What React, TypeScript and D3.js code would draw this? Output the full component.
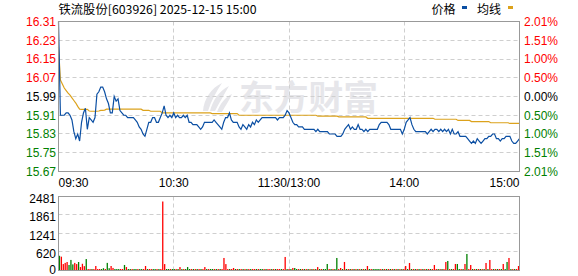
import React from 'react';
import * as d3 from 'd3';

const title = '铁流股份[603926] 2025-12-15 15:00';
const legendLabels = ['价格', '均线'];
const watermarkText = '东方财富';
const prevClose = 15.99;
const priceTicks = [16.31, 16.23, 16.15, 16.07, 15.99, 15.91, 15.83, 15.75, 15.67];
const pctTicks = ['2.01%', '1.51%', '1.00%', '0.50%', '0.00%', '0.50%', '1.00%', '1.51%', '2.01%'];
const volTicks = [2481, 1861, 1241, 620, 0];
const timeLabels = ['09:30', '10:30', '11:30/13:00', '14:00', '15:00'];
const timeIdx = [0, 60, 120, 180, 240];

const price = [
  16.31, 15.91, 15.91, 15.91, 15.92, 15.92, 15.91, 15.89, 15.84, 15.81,
  15.83, 15.80, 15.88, 15.92, 15.94, 15.85, 15.90, 15.89, 15.88, 15.90,
  16.00, 16.01, 16.03, 16.03, 16.01, 15.98, 15.96, 15.92, 15.92, 15.99,
  15.97, 15.98, 15.93, 15.92, 15.91, 15.91, 15.90, 15.90, 15.90, 15.90,
  15.89, 15.88, 15.86, 15.85, 15.83, 15.82, 15.85, 15.88, 15.88, 15.90,
  15.90, 15.88, 15.88, 15.90, 15.92, 15.95, 15.91, 15.90, 15.91, 15.90,
  15.92, 15.90, 15.91, 15.90, 15.90, 15.91, 15.90, 15.91, 15.88, 15.88,
  15.87, 15.87, 15.87, 15.86, 15.85, 15.86, 15.88, 15.88, 15.88, 15.88,
  15.88, 15.89, 15.88, 15.87, 15.86, 15.85, 15.88, 15.90, 15.90, 15.92,
  15.89, 15.88, 15.88, 15.88, 15.86, 15.85, 15.87, 15.86, 15.85, 15.87,
  15.86, 15.88, 15.87, 15.89, 15.88, 15.89, 15.90, 15.90, 15.90, 15.90,
  15.90, 15.90, 15.90, 15.90, 15.89, 15.90, 15.90, 15.90, 15.91, 15.93,
  15.92, 15.90, 15.88, 15.87, 15.87, 15.86, 15.86, 15.86, 15.85, 15.85,
  15.85, 15.85, 15.85, 15.85, 15.84, 15.85, 15.84, 15.84, 15.84, 15.84,
  15.84, 15.83, 15.83, 15.83, 15.83, 15.82, 15.82, 15.82, 15.83, 15.85,
  15.86, 15.87, 15.85, 15.86, 15.85, 15.85, 15.87, 15.85, 15.85, 15.84,
  15.85, 15.84, 15.85, 15.85, 15.85, 15.85, 15.85, 15.87, 15.88, 15.88,
  15.88, 15.88, 15.87, 15.85, 15.85, 15.85, 15.85, 15.85, 15.85, 15.83,
  15.85, 15.88, 15.89, 15.90, 15.87, 15.85, 15.84, 15.84, 15.84, 15.84,
  15.84, 15.84, 15.83, 15.84, 15.85, 15.84, 15.85, 15.85, 15.84, 15.85,
  15.84, 15.85, 15.84, 15.85, 15.83, 15.85, 15.83, 15.83, 15.84, 15.82,
  15.82, 15.82, 15.82, 15.81, 15.80, 15.79, 15.80, 15.79, 15.81, 15.80,
  15.79, 15.80, 15.81, 15.81, 15.82, 15.82, 15.83, 15.83, 15.81, 15.81,
  15.80, 15.81, 15.81, 15.82, 15.82, 15.82, 15.80, 15.79, 15.79, 15.80,
  15.81,
];

const avgPrice = [
  16.200, 16.060, 16.043, 16.026, 16.015, 16.004, 15.996, 15.984, 15.973, 15.962,
  15.948, 15.936, 15.935, 15.935, 15.935, 15.935, 15.928, 15.927, 15.927, 15.927,
  15.927, 15.928, 15.931, 15.931, 15.932, 15.936, 15.936, 15.936, 15.936, 15.936,
  15.936, 15.936, 15.936, 15.936, 15.936, 15.936, 15.936, 15.936, 15.936, 15.936,
  15.936, 15.936, 15.936, 15.936, 15.931, 15.931, 15.931, 15.931, 15.927, 15.927,
  15.927, 15.927, 15.927, 15.927, 15.920, 15.920, 15.920, 15.920, 15.920, 15.920,
  15.920, 15.920, 15.920, 15.920, 15.920, 15.920, 15.920, 15.920, 15.920, 15.920,
  15.920, 15.920, 15.920, 15.920, 15.920, 15.920, 15.920, 15.920, 15.920, 15.920,
  15.917, 15.917, 15.917, 15.917, 15.917, 15.917, 15.917, 15.917, 15.917, 15.917,
  15.917, 15.917, 15.917, 15.917, 15.910, 15.910, 15.910, 15.910, 15.910, 15.910,
  15.910, 15.910, 15.910, 15.910, 15.910, 15.910, 15.910, 15.910, 15.910, 15.910,
  15.910, 15.910, 15.910, 15.910, 15.910, 15.910, 15.910, 15.910, 15.910, 15.910,
  15.910, 15.910, 15.910, 15.910, 15.910, 15.910, 15.910, 15.910, 15.910, 15.910,
  15.910, 15.910, 15.910, 15.910, 15.910, 15.906, 15.906, 15.906, 15.906, 15.906,
  15.906, 15.906, 15.906, 15.906, 15.906, 15.906, 15.903, 15.903, 15.903, 15.903,
  15.903, 15.903, 15.903, 15.903, 15.903, 15.903, 15.903, 15.903, 15.903, 15.903,
  15.903, 15.897, 15.897, 15.897, 15.897, 15.897, 15.897, 15.897, 15.897, 15.897,
  15.897, 15.897, 15.897, 15.897, 15.897, 15.897, 15.897, 15.897, 15.897, 15.897,
  15.897, 15.897, 15.897, 15.897, 15.897, 15.897, 15.897, 15.897, 15.897, 15.897,
  15.897, 15.897, 15.897, 15.897, 15.897, 15.897, 15.893, 15.893, 15.893, 15.893,
  15.893, 15.893, 15.893, 15.893, 15.893, 15.893, 15.893, 15.893, 15.888, 15.888,
  15.888, 15.888, 15.888, 15.888, 15.888, 15.883, 15.883, 15.883, 15.883, 15.883,
  15.883, 15.883, 15.883, 15.883, 15.883, 15.878, 15.878, 15.878, 15.878, 15.878,
  15.878, 15.878, 15.878, 15.878, 15.878, 15.875, 15.875, 15.875, 15.875, 15.875,
  15.875,
];

const volume = [
  480, 450, 200, 240, 270, 170, 340, 190, 240, 200,
  270, 100, 210, 130, 370, 25, 20, 25, 30, 135,
  25, 30, 20, 60, 25, 240, 60, 135, 70, 25,
  20, 25, 30, 20, 170, 100, 30, 20, 25, 20,
  30, 20, 25, 30, 20, 135, 20, 30, 25, 20,
  30, 25, 20, 25, 2312, 200, 25, 20, 30, 25,
  20, 25, 30, 100, 25, 20, 30, 100, 25, 20,
  25, 30, 20, 25, 20, 30, 100, 25, 20, 25,
  30, 20, 25, 30, 20, 25, 406, 200, 30, 20,
  25, 68, 25, 20, 30, 25, 20, 30, 25, 20,
  25, 30, 20, 25, 30, 20, 25, 20, 30, 25,
  20, 25, 30, 20, 25, 30, 20, 25, 440, 30,
  20, 25, 68, 68, 25, 20, 30, 25, 20, 25,
  30, 20, 25, 20, 30, 100, 20, 25, 30, 20,
  203, 25, 20, 30, 25, 406, 25, 68, 20, 271,
  25, 30, 20, 25, 30, 20, 25, 20, 30, 25,
  20, 135, 25, 20, 30, 25, 20, 25, 30, 20,
  25, 30, 20, 25, 20, 30, 25, 20, 25, 30,
  20, 135, 25, 237, 20, 25, 30, 20, 25, 30,
  20, 25, 20, 30, 25, 20, 169, 30, 25, 20,
  30, 25, 271, 305, 20, 25, 30, 203, 203, 25,
  20, 30, 203, 541, 25, 169, 30, 20, 25, 30,
  20, 25, 30, 237, 25, 338, 20, 25, 30, 20,
  25, 30, 203, 25, 271, 406, 30, 20, 25, 30,
  135,
];

// r = up (red), g = down (green), one letter per minute
const volumeDirection =
  'grrrrgggrr' + 'grrrgrrgrr' + 'rrggrggrrg' + 'ggrrgrggrg' + 'grggrrgrrg' +
  'grgrrrggrg' + 'grgrgrgggr' + 'grgrgrrgrg' + 'grgrgrrrrg' + 'rrgrgrgrgr' +
  'grrgrggrgr' + 'rgrgrrgrrg' + 'rgrggrgrgr' + 'grgrgrgrgg' + 'grgrggrrgr' +
  'grgrgrgrgr' + 'grgrggggrg' + 'rgrgrgrgrg' + 'rrgrgrgrgr' + 'grgrgrrrgr' +
  'grrgrgrrgg' + 'rgrgrrgrgr' + 'grgrgrrgrg' + 'rgrggrgrgr' + 'r';

const RED = '#ff0000';
const GREEN = '#008000';
const GRID = '#cfcfcf';
const FRAME = '#999999';
const LATIN = '"Liberation Sans", Arial, sans-serif';
const CJK = '"Noto Sans CJK SC", "Liberation Sans", sans-serif';

export default function App() {
  const W = 578;
  const H = 276;
  const L = 58.5, R = 519.5, T = 21.5, B = 171.5;
  const VT = 196.5, VB = 270.5;

  const x = d3.scaleLinear().domain([0, 240]).range([L, R]);
  const xb = d3.scaleBand<number>().domain(d3.range(241)).range([L, R]);
  const y = d3.scaleLinear().domain([15.67, 16.31]).range([B, T]);
  const yv = d3.scaleLinear().domain([0, 2481]).range([270, VT]);

  const line = d3.line<number>().x((_, i) => x(i)).y((d) => y(d));

  const colorFor = (p: number) => (p > prevClose + 1e-9 ? RED : p < prevClose - 1e-9 ? GREEN : '#000');
  const snap = (v: number) => Math.floor(v) + 0.5;

  const barW = 1.3;

  return (
    <svg width={W} height={H} style={{ position: 'absolute', left: 0, top: 0, background: '#fff' }}>
      <rect x={0} y={0} width={W} height={H} fill="#fff" />
      {/* watermark */}
      <g fill="#e6e6ea">
        <path d="M203,111 C204,99 211,88 222,83 C216,92 211,101 208,111 Z" />
        <path d="M210,111 C213,100 219,91 229,86 C224,95 219,103 215,111 Z" />
        <path d="M217,112 C220,104 225,97 232,94 C229,101 225,106 222,112 Z" />
        <text x={239} y={110} fontFamily={CJK} fontWeight="bold" fontSize={34} textLength={139} lengthAdjust="spacingAndGlyphs">
          {watermarkText}
        </text>
      </g>

      {/* title & legend */}
      <text x={58.5} y={14} fontFamily={CJK} fontSize={12} fill="#000" textLength={198} lengthAdjust="spacingAndGlyphs">
        {title}
      </text>
      <text x={431.5} y={14} fontFamily={CJK} fontSize={12} fill="#000">{legendLabels[0]}</text>
      <rect x={462} y={6} width={5} height={3} fill="#0b4fa3" />
      <text x={477} y={14} fontFamily={CJK} fontSize={12} fill="#000">{legendLabels[1]}</text>
      <rect x={508} y={6} width={5} height={3} fill="#dca21c" />

      {/* price grid */}
      {priceTicks.slice(1, -1).map((t) => (
        <line key={'pg' + t} x1={L} x2={R} y1={snap(y(t))} y2={snap(y(t))} stroke={GRID} strokeDasharray="4,3" />
      ))}
      {timeIdx.slice(1, -1).map((t) => (
        <line key={'pv' + t} x1={snap(x(t))} x2={snap(x(t))} y1={T} y2={B} stroke={GRID} strokeDasharray="4,3" />
      ))}
      {/* volume grid */}
      {volTicks.slice(1, -1).map((t) => (
        <line key={'vg' + t} x1={L} x2={R} y1={snap(yv(t))} y2={snap(yv(t))} stroke={GRID} strokeDasharray="4,3" />
      ))}
      {timeIdx.slice(1, -1).map((t) => (
        <line key={'vv' + t} x1={snap(x(t))} x2={snap(x(t))} y1={VT} y2={VB} stroke={GRID} strokeDasharray="4,3" />
      ))}

      {/* price labels */}
      {priceTicks.map((t) => (
        <text key={'pl' + t} x={56} y={y(t) + 4.3} textAnchor="end" fontFamily={LATIN} fontSize={12} fill={colorFor(t)}>
          {t.toFixed(2)}
        </text>
      ))}
      {pctTicks.map((t, i) => (
        <text key={'pc' + i} x={524} y={y(priceTicks[i]) + 4.3} fontFamily={LATIN} fontSize={12} fill={colorFor(priceTicks[i])}>
          {t}
        </text>
      ))}

      {/* time labels */}
      {timeLabels.map((t, i) => (
        <text
          key={'tl' + t}
          x={i === 0 ? L : i === timeLabels.length - 1 ? R : x(timeIdx[i])}
          y={187}
          textAnchor={i === 0 ? 'start' : i === timeLabels.length - 1 ? 'end' : 'middle'}
          fontFamily={LATIN}
          fontSize={12}
          fill="#000"
        >
          {t}
        </text>
      ))}

      {/* volume labels */}
      {volTicks.map((t) => (
        <text key={'vl' + t} x={56} y={yv(t) + (t === 0 ? 3.8 : 6.3)} textAnchor="end" fontFamily={LATIN} fontSize={12} fill="#000">
          {t}
        </text>
      ))}

      {/* lines */}
      <path d={line(avgPrice) || ''} fill="none" stroke="#dca21c" strokeWidth={1.2} />
      <path d={line(price) || ''} fill="none" stroke="#0b4fa3" strokeWidth={1.2} />

      {/* volume bars */}
      {volume.map((v, i) => {
        const top = yv(v);
        const h = Math.max(1, yv(0) - top);
        return (
          <rect
            key={'vb' + i}
            x={(xb(i) as number) + (xb.bandwidth() - barW) / 2}
            y={yv(0) - h}
            width={barW}
            height={h}
            fill={volumeDirection[i] === 'r' ? RED : GREEN}
          />
        );
      })}

      {/* frames */}
      <rect x={L} y={T} width={R - L} height={B - T} fill="none" stroke={FRAME} strokeWidth={1} />
      <rect x={L} y={VT} width={R - L} height={VB - VT} fill="none" stroke={FRAME} strokeWidth={1} />
    </svg>
  );
}
